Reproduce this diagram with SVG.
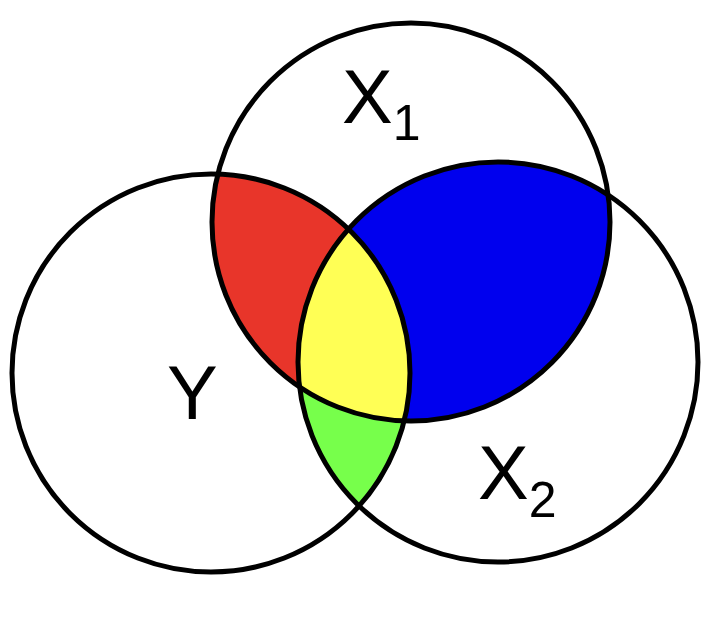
<svg xmlns="http://www.w3.org/2000/svg" width="720" height="624" viewBox="0 0 720 624">
  <style>
    .ring { fill: none; stroke: #000; stroke-width: 5; }
    .lbl { font-family: "Liberation Sans", Arial, sans-serif; font-size: 76px; fill: #000; }
    .sub { font-size: 50px; }
  </style>
  <defs>
    <clipPath id="cY"><circle cx="211" cy="373" r="199"/></clipPath>
    <clipPath id="cX1"><circle cx="411" cy="222" r="199"/></clipPath>
  </defs>
  <rect width="720" height="624" fill="#fff"/>
  <g id="regions">
    <circle id="red" cx="411" cy="222" r="199" fill="#E8352A" clip-path="url(#cY)"/>
    <circle id="blue" cx="498" cy="362" r="200" fill="#0000EE" clip-path="url(#cX1)"/>
    <circle id="green" cx="498" cy="362" r="200" fill="#77FF4B" clip-path="url(#cY)"/>
    <g clip-path="url(#cX1)">
      <circle id="yellow" cx="498" cy="362" r="200" fill="#FFFF55" clip-path="url(#cY)"/>
    </g>
  </g>
  <g id="Y">
    <circle class="ring" cx="211" cy="373" r="199"/>
    <text class="lbl" x="167" y="419">Y</text>
  </g>
  <g id="X1">
    <circle class="ring" cx="411" cy="222" r="199"/>
    <text class="lbl" x="342" y="123">X<tspan class="sub" dy="17">1</tspan></text>
  </g>
  <g id="X2">
    <circle class="ring" cx="498" cy="362" r="200"/>
    <text class="lbl" x="478" y="499">X<tspan class="sub" dy="18">2</tspan></text>
  </g>
</svg>
